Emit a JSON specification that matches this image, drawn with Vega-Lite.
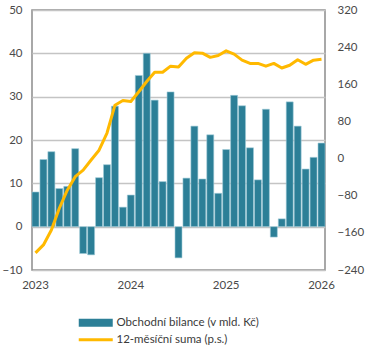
{
  "$schema": "https://vega.github.io/schema/vega-lite/v6.json",
  "width": 293,
  "height": 260,
  "autosize": {"type": "none"},
  "padding": {"left": 32, "top": 10, "right": 47, "bottom": 80},
  "config": {
    "font": "Lato",
    "view": {"stroke": "#8c8c8c", "strokeWidth": 1.5},
    "axis": {"labelFont": "Lato", "labelFontSize": 11.5, "labelColor": "#4a4a4a", "ticks": false, "domain": false, "title": null},
    "legend": {"labelFont": "Lato", "labelFontSize": 11.5, "labelColor": "#3a3a3a", "symbolSize": 100, "labelOffset": 27, "symbolStrokeWidth": 0, "orient": "none", "title": null}
  },
  "data": {"values": [
    {"m": "2023-01", "b": 8.0, "s": -203},
    {"m": "2023-02", "b": 15.5, "s": -186},
    {"m": "2023-03", "b": 17.3, "s": -154},
    {"m": "2023-04", "b": 8.8, "s": -107},
    {"m": "2023-05", "b": 9.3, "s": -68},
    {"m": "2023-06", "b": 18.0, "s": -39},
    {"m": "2023-07", "b": -6.2, "s": -25},
    {"m": "2023-08", "b": -6.5, "s": -3},
    {"m": "2023-09", "b": 11.3, "s": 18},
    {"m": "2023-10", "b": 14.3, "s": 55},
    {"m": "2023-11", "b": 27.8, "s": 115},
    {"m": "2023-12", "b": 4.5, "s": 125},
    {"m": "2024-01", "b": 7.3, "s": 123},
    {"m": "2024-02", "b": 34.9, "s": 144},
    {"m": "2024-03", "b": 40.0, "s": 166},
    {"m": "2024-04", "b": 29.2, "s": 186},
    {"m": "2024-05", "b": 10.4, "s": 186},
    {"m": "2024-06", "b": 31.1, "s": 199},
    {"m": "2024-07", "b": -7.2, "s": 197},
    {"m": "2024-08", "b": 11.2, "s": 216},
    {"m": "2024-09", "b": 23.2, "s": 228},
    {"m": "2024-10", "b": 11.0, "s": 227},
    {"m": "2024-11", "b": 21.2, "s": 218},
    {"m": "2024-12", "b": 7.7, "s": 222},
    {"m": "2025-01", "b": 17.8, "s": 232},
    {"m": "2025-02", "b": 30.3, "s": 225},
    {"m": "2025-03", "b": 27.9, "s": 212},
    {"m": "2025-04", "b": 18.2, "s": 205},
    {"m": "2025-05", "b": 10.8, "s": 205},
    {"m": "2025-06", "b": 27.1, "s": 199},
    {"m": "2025-07", "b": -2.4, "s": 205},
    {"m": "2025-08", "b": 1.8, "s": 195},
    {"m": "2025-09", "b": 28.8, "s": 201},
    {"m": "2025-10", "b": 23.2, "s": 213},
    {"m": "2025-11", "b": 13.3, "s": 203},
    {"m": "2025-12", "b": 16.0, "s": 212},
    {"m": "2026-01", "b": 19.3, "s": 214}
  ]},
  "encoding": {
    "x": {
      "field": "m", "type": "ordinal",
      "scale": {"paddingInner": 0.12, "paddingOuter": 0},
      "axis": {"labelAngle": 0, "labelPadding": 9, "labelExpr": "slice(datum.value, 5) == '01' ? slice(datum.value, 0, 4) : ''", "grid": false}
    }
  },
  "layer": [
    {
      "mark": {"type": "bar", "stroke": "#9fcbd8", "strokeWidth": 0.6},
      "encoding": {
        "y": {
          "field": "b", "type": "quantitative",
          "scale": {"domain": [-10, 50], "nice": false, "zero": false},
          "axis": {"values": [-10, 0, 10, 20, 30, 40, 50], "grid": true, "gridColor": "#c4c4c4", "gridWidth": 1.3, "labelPadding": 10, "orient": "left"}
        },
        "fill": {
          "datum": "Obchodní bilance (v mld. Kč)",
          "type": "nominal",
          "scale": {"range": ["#2c7f97"]},
          "legend": {
            "legendX": 46,
            "legendY": 307,
            "symbolType": "M-1,-0.8H5.8V0.8H-1Z",
            "symbolFillColor": "#2c7f97"
          }
        }
      }
    },
    {
      "mark": {"type": "rule", "color": "#222222", "strokeWidth": 1.2},
      "encoding": {"y": {"datum": 0, "type": "quantitative", "scale": {"domain": [-10, 50], "nice": false, "zero": false}, "axis": null}}
    },
    {
      "mark": {"type": "line", "strokeWidth": 3, "strokeJoin": "round", "interpolate": "linear"},
      "encoding": {
        "y": {
          "field": "s", "type": "quantitative",
          "scale": {"domain": [-240, 320], "nice": false, "zero": false},
          "axis": {"orient": "right", "values": [-240, -160, -80, 0, 80, 160, 240, 320], "grid": false, "labelPadding": 12}
        },
        "stroke": {
          "datum": "12-měsíční suma (p.s.)",
          "type": "nominal",
          "scale": {"range": ["#ffb900"]},
          "legend": {
            "legendX": 46,
            "legendY": 324,
            "symbolType": "M-1,-0.3H5.8V0.3H-1Z",
            "symbolFillColor": "#ffb900",
            "symbolStrokeColor": "#ffb900",
            "symbolStrokeWidth": 0
          }
        }
      }
    }
  ],
  "resolve": {"scale": {"y": "independent"}, "axis": {"y": "independent"}}
}
